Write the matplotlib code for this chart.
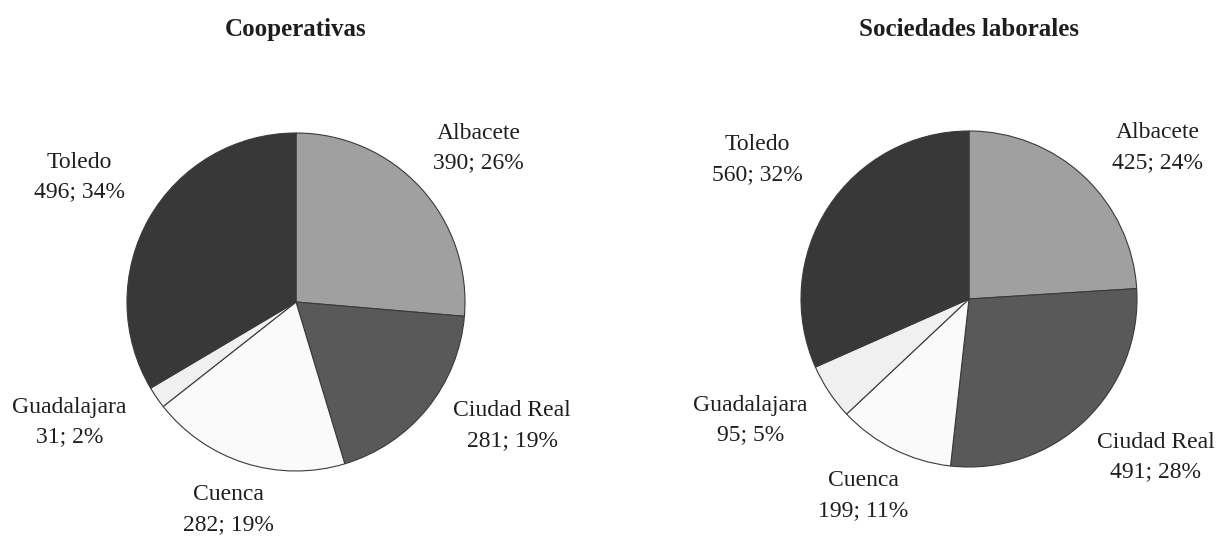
import matplotlib.pyplot as plt

# datos
provincias = ['Albacete', 'Ciudad Real', 'Cuenca', 'Guadalajara', 'Toledo']
cooperativas = [390, 281, 282, 31, 496]
sociedades = [425, 491, 199, 95, 560]
colores = ['#a0a0a0', '#595959', '#fafafa', '#f0f0f0', '#383838']

# posiciones de las etiquetas (en radios del circulo)
pos_coop = [(1.08, 0.91), (1.28, -0.73), (-0.40, -1.23), (-1.34, -0.71), (-1.28, 0.74)]
pos_soc = [(1.125, 0.90), (1.11, -0.94), (-0.63, -1.17), (-1.30, -0.72), (-1.26, 0.83)]

plt.rcParams['font.family'] = ['Liberation Serif', 'DejaVu Serif']

fig = plt.figure(figsize=(12.16, 5.36), dpi=100)
W, H = 1216, 536


def dibuja(cx, cy, r, valores, posiciones, titulo):
    ax = fig.add_axes([(cx - r) / W, (H - cy - r) / H, 2 * r / W, 2 * r / H])
    ax.pie(valores, colors=colores, startangle=90, counterclock=False,
           wedgeprops=dict(edgecolor='#3a3a3a', linewidth=0.8))
    ax.set_xlim(-1, 1)
    ax.set_ylim(-1, 1)
    ax.axis('off')
    total = sum(valores)
    for nombre, v, (x, y) in zip(provincias, valores, posiciones):
        ax.text(x, y, f'{nombre}\n{v}; {round(100 * v / total)}%', ha='center', va='center',
                fontsize=17, linespacing=1.55, color='#1e1e1e')
    fig.text(cx / W, 1 - 36 / H, titulo, ha='center', va='baseline', fontsize=18,
             fontweight='bold', color='#1e1e1e')


dibuja(296, 302, 169, cooperativas, pos_coop, 'Cooperativas')
dibuja(969, 299, 168, sociedades, pos_soc, 'Sociedades laborales')

plt.savefig('out.png', dpi=100)
